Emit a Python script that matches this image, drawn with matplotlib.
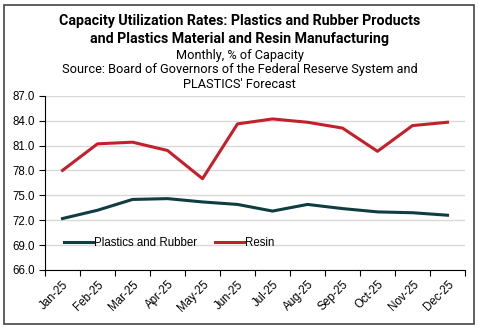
import matplotlib
matplotlib.use("Agg")
import matplotlib.pyplot as plt
from matplotlib.patches import Rectangle

months = ["Jan-25", "Feb-25", "Mar-25", "Apr-25", "May-25", "Jun-25",
          "Jul-25", "Aug-25", "Sep-25", "Oct-25", "Nov-25", "Dec-25"]
plastics_rubber = [72.2, 73.2, 74.5, 74.6, 74.2, 73.9, 73.1, 73.9, 73.4, 73.0, 72.9, 72.6]
resin = [78.0, 81.2, 81.4, 80.4, 77.0, 83.6, 84.2, 83.8, 83.1, 80.3, 83.4, 83.8]
yticks = [66.0, 69.0, 72.0, 75.0, 78.0, 81.0, 84.0, 87.0]

W, H = 479, 328
fig = plt.figure(figsize=(W / 100, H / 100), dpi=100)
ax = fig.add_axes([45 / W, 1 - 270 / H, 420 / W, (270 - 95.7) / H])

x = list(range(len(months)))
ax.plot(x, plastics_rubber, color="#0f3d42", lw=2.2, label="Plastics and Rubber")
ax.plot(x, resin, color="#c4202b", lw=2.2, label="Resin")

ax.set_xlim(-0.5, len(months) - 0.5)
ax.set_ylim(66, 87)
ax.set_yticks(yticks)
ax.set_yticklabels([f"{v:.1f}" for v in yticks], fontsize=8.3, family="Liberation Sans")
ax.set_xticks([i - 0.5 for i in range(len(months) + 1)])
ax.set_xticklabels([])
ax.set_xticks(x, minor=True)
ax.set_xticklabels(months, minor=True, rotation=45, ha="right", rotation_mode="anchor",
                   fontsize=8.3, family="Liberation Sans")
ax.tick_params(axis="x", which="minor", length=0, pad=6)
ax.tick_params(axis="x", which="major", length=4, direction="out", color="black", width=0.8)
ax.tick_params(axis="y", length=4, direction="out", width=0.8, pad=3)
ax.grid(axis="y", color="#d9d9d9", lw=1)
ax.set_axisbelow(True)
for s in ["top", "right"]:
    ax.spines[s].set_visible(False)
ax.spines["left"].set_color("black")
ax.spines["bottom"].set_color("black")

leg = ax.legend(loc="lower left", bbox_to_anchor=(0.02, 0.06), ncol=2, frameon=False,
                handlelength=2.5, handletextpad=0.1, columnspacing=1.6,
                prop={"family": "Liberation Sans", "size": 8.3})

fig.text(0.5, 1 - 21 / H, "Capacity Utilization Rates: Plastics and Rubber Products",
         ha="center", va="center", fontsize=10.3, fontweight="bold", family="Roboto")
fig.text(0.5, 1 - 39 / H, "and Plastics Material and Resin Manufacturing",
         ha="center", va="center", fontsize=10.3, fontweight="bold", family="Roboto")
fig.text(0.5, 1 - 55 / H, "Monthly, % of Capacity", ha="center", va="center",
         fontsize=9.2, family="Roboto")
fig.text(0.5, 1 - 70 / H, "Source: Board of Governors of the Federal Reserve System and",
         ha="center", va="center", fontsize=9.2, family="Roboto")
fig.text(0.5, 1 - 85 / H, "PLASTICS' Forecast", ha="center", va="center",
         fontsize=9.2, family="Roboto")

fig.patches.append(Rectangle((4 / W, 4 / H), (W - 9) / W, (H - 9) / H, transform=fig.transFigure,
                             fill=False, edgecolor="#444444", lw=1.2))

fig.savefig("out.png", dpi=100)
